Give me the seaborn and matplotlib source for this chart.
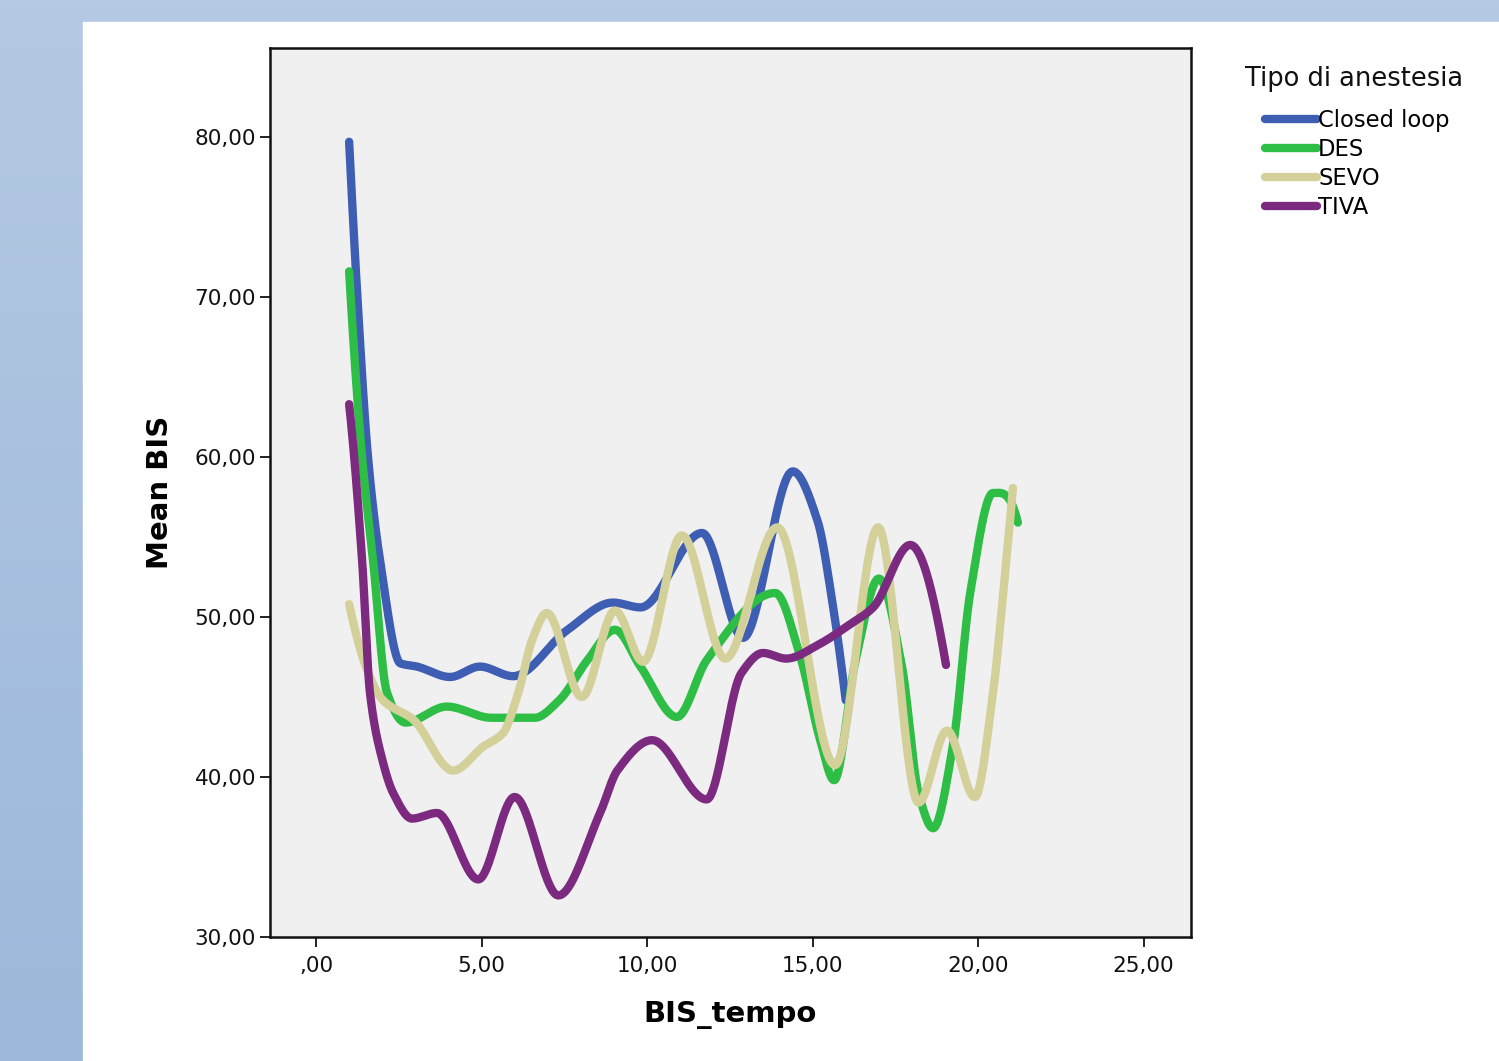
import numpy as np
import pandas as pd
import matplotlib
matplotlib.use("Agg")
import matplotlib.pyplot as plt
from matplotlib.lines import Line2D
from matplotlib.patches import Rectangle
import seaborn as sns

# Valori (nodi della curva spline di SPSS)
closed_t = [1.0, 1.25, 1.57, 1.93, 2.55, 3.05, 4.05, 4.95, 5.95, 7.6, 8.97, 9.8,
            11.66, 12.9, 14.4, 15.15, 15.6, 16.0]
closed_v = [79.7, 70.0, 60.0, 53.6, 47.1, 46.9, 46.25, 46.9, 46.3, 49.2, 50.9, 50.6,
            55.25, 48.7, 59.1, 56.0, 50.9, 44.8]

des_t = [1.0, 1.39, 1.72, 2.14, 2.7, 3.95, 5.3, 6.6, 7.35, 8.2, 9.03, 9.8, 10.9,
         11.8, 13.87, 14.63, 15.23, 15.65, 16.3, 17.0, 17.7, 18.2, 18.64, 19.25,
         19.76, 20.45, 21.2]
des_v = [71.6, 60.0, 53.6, 45.3, 43.4, 44.4, 43.7, 43.7, 44.8, 47.3, 49.2, 46.9, 43.75,
         47.3, 51.5, 47.5, 42.3, 39.8, 47.3, 52.4, 46.9, 39.0, 36.8, 42.1,
         51.5, 57.75, 55.9]

sevo_t = [1.0, 1.54, 2.02, 2.93, 4.14, 5.05, 5.65, 6.1, 6.55, 6.97, 8.03, 9.03, 9.88,
          11.05, 12.36, 13.93, 15.68, 16.98, 18.2, 19.06, 19.9, 20.45, 20.76, 21.05]
sevo_v = [50.8, 46.7, 44.8, 43.6, 40.4, 41.9, 42.75, 45.2, 48.7, 50.25, 45.0, 50.4, 47.2,
          55.1, 47.4, 55.6, 40.75, 55.6, 38.4, 42.9, 38.75, 45.25, 51.5, 58.06]

tiva_t = [1.0, 1.39, 1.63, 2.0, 2.33, 2.9, 3.65, 4.9, 6.0, 7.32, 8.58, 9.1, 10.15,
          11.8, 12.85, 13.5, 14.2, 15.2, 16.1, 16.83, 17.95, 19.03]
tiva_v = [63.3, 53.6, 45.25, 41.1, 39.0, 37.4, 37.75, 33.6, 38.75, 32.6, 37.75, 40.4, 42.3,
          38.6, 46.5, 47.75, 47.4, 48.3, 49.5, 50.6, 54.5, 47.0]

gruppi = ["Closed loop", "DES", "SEVO", "TIVA"]
colori = ["#3e5eb4", "#2ebe46", "#d4d099", "#7b2a80"]
x_ticks = [0, 5, 10, 15, 20, 25]
y_ticks = [30, 40, 50, 60, 70, 80]


def pchip(x, y, n=40):
    # spline monotona a tratti (come la linea "spline" di SPSS)
    x = np.asarray(x, float)
    y = np.asarray(y, float)
    h = np.diff(x)
    d = np.diff(y) / h
    m = np.zeros_like(y)
    for k in range(1, len(x) - 1):
        if d[k - 1] * d[k] > 0:
            w1 = 2 * h[k] + h[k - 1]
            w2 = h[k] + 2 * h[k - 1]
            m[k] = (w1 + w2) / (w1 / d[k - 1] + w2 / d[k])
    m[0] = ((2 * h[0] + h[1]) * d[0] - h[0] * d[1]) / (h[0] + h[1])
    if np.sign(m[0]) != np.sign(d[0]):
        m[0] = 0
    m[-1] = ((2 * h[-1] + h[-2]) * d[-1] - h[-1] * d[-2]) / (h[-1] + h[-2])
    if np.sign(m[-1]) != np.sign(d[-1]):
        m[-1] = 0
    xs, ys = [], []
    for k in range(len(h)):
        s = np.linspace(0, 1, n, endpoint=(k == len(h) - 1))
        h00 = 2 * s**3 - 3 * s**2 + 1
        h10 = s**3 - 2 * s**2 + s
        h01 = -2 * s**3 + 3 * s**2
        h11 = s**3 - s**2
        xs.append(x[k] + s * h[k])
        ys.append(h00 * y[k] + h10 * h[k] * m[k] + h01 * y[k + 1] + h11 * h[k] * m[k + 1])
    return np.concatenate(xs), np.concatenate(ys)


frames = []
for nome, tt, vv in zip(gruppi, [closed_t, des_t, sevo_t, tiva_t],
                        [closed_v, des_v, sevo_v, tiva_v]):
    xs, ys = pchip(tt, vv)
    frames.append(pd.DataFrame({"BIS_tempo": xs, "Mean BIS": ys, "Tipo di anestesia": nome}))
df = pd.concat(frames, ignore_index=True)

sns.set_style("ticks")
plt.rcParams["font.family"] = ["DejaVu Sans"]
plt.rcParams["text.color"] = "black"
plt.rcParams["axes.labelcolor"] = "black"

W, H = 1499, 1061
fig = plt.figure(figsize=(W / 100, H / 100), dpi=100)

# sfondo azzurro con riquadro bianco
bg = fig.add_axes([0, 0, 1, 1])
bg.set_zorder(-1)
grad = np.linspace(0, 1, 256).reshape(-1, 1)
cmap = matplotlib.colors.LinearSegmentedColormap.from_list("bg", ["#b4c9e3", "#9cb8da"])
bg.imshow(grad, extent=(0, W, 0, H), aspect="auto", cmap=cmap)
bg.add_patch(Rectangle((83, 0), W - 83, H - 22, color="white"))
bg.set_xlim(0, W)
bg.set_ylim(0, H)
bg.axis("off")

ax = fig.add_axes([270 / W, 1 - 937 / H, (1191 - 270) / W, (937 - 48) / H])
ax.set_facecolor("#f0f0f0")

sns.lineplot(data=df, x="BIS_tempo", y="Mean BIS", hue="Tipo di anestesia",
             hue_order=gruppi, palette=colori, sort=False, estimator=None,
             linewidth=6, legend=False, ax=ax)
for line in ax.lines:
    line.set_solid_capstyle("round")
    line.set_solid_joinstyle("round")

ax.set_xlim(-1.39, 26.43)
ax.set_ylim(30, 85.56)
ax.set_xticks(x_ticks)
ax.set_yticks(y_ticks)
ax.set_xticklabels([",00" if v == 0 else f"{v},00" for v in x_ticks])
ax.set_yticklabels([f"{v},00" for v in y_ticks])
ax.tick_params(axis="both", direction="out", length=7, width=1.3, labelsize=15.5,
               colors="#111111", top=False, right=False)
ax.tick_params(axis="x", pad=7)
ax.tick_params(axis="y", pad=3)
for sp in ax.spines.values():
    sp.set_visible(True)
    sp.set_linewidth(1.8)
    sp.set_color("#111111")

ax.set_xlabel("BIS_tempo", fontsize=21, fontweight="bold", va="center")
ax.set_ylabel("Mean BIS", fontsize=21, fontweight="bold", va="center")
ax.xaxis.set_label_coords((730 - 270) / 921, (937 - 1015) / 889)
ax.yaxis.set_label_coords((160 - 270) / 921, (937 - 492) / 889)

# legenda
handles = [Line2D([0], [0], color=c, lw=6, solid_capstyle="round") for c in colori]
fig.text(1245 / W, 1 - 79 / H, "Tipo di anestesia", fontsize=18.5, va="center",
         ha="left", color="#111111")
fig.legend(handles, gruppi, loc="upper left", bbox_to_anchor=(1265 / W, 1 - 109 / H),
           frameon=False, handlelength=2.3, handletextpad=0.05, labelspacing=0.26,
           borderpad=0, borderaxespad=0, fontsize=16.3)

fig.savefig("out.png", dpi=100)
